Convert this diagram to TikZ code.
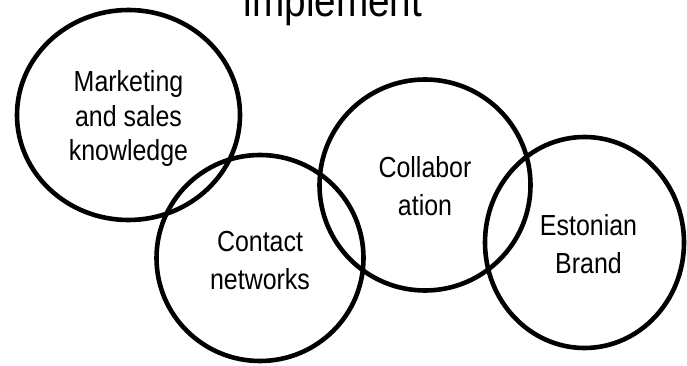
\documentclass[tikz,border=0pt]{standalone}
\usepackage{fontspec}
\setmainfont{Liberation Sans}
\newfontfamily\narrowsans[FakeStretch=0.86]{Liberation Sans}
\usetikzlibrary{shapes.geometric}
\tikzset{
  ring/.style={draw=black, line width=4.6pt, ellipse, inner sep=0pt},
  ringtext/.style={inner sep=0pt, align=center,
    font=\narrowsans\fontsize{29}{38}\selectfont},
  heading/.style={font=\narrowsans\fontsize{45}{50}\selectfont, inner sep=0pt, anchor=base}
}
\begin{document}
\begin{tikzpicture}[x=1pt, y=-1pt]
  \useasboundingbox (0,0) rectangle (687,366);
  \node[heading] (title) at (333,17) {implement};
  % the four overlapping rings
  \node[ring, minimum width=223pt, minimum height=210pt] (mks) at (128.5,115) {};
  \node[ring, minimum width=207pt, minimum height=206pt] (cnt) at (260,258) {};
  \node[ring, minimum width=211pt, minimum height=211pt] (col) at (425,185) {};
  \node[ring, minimum width=199pt, minimum height=211pt] (est) at (584.5,242.5) {};
  % their labels
  \node[ringtext, font=\narrowsans\fontsize{29}{34.5}\selectfont]
        (mks-t) at ([yshift=-4pt]mks.center) {Marketing\\and sales\\knowledge};
  \node[ringtext] (cnt-t) at ([yshift=-3pt]cnt.center) {Contact\\networks};
  \node[ringtext] (col-t) at ([yshift=-1pt]col.center) {Collabor\\ation};
  \node[ringtext] (est-t) at ([yshift=-2pt,xshift=4pt]est.center) {Estonian\\Brand};
\end{tikzpicture}
\end{document}
